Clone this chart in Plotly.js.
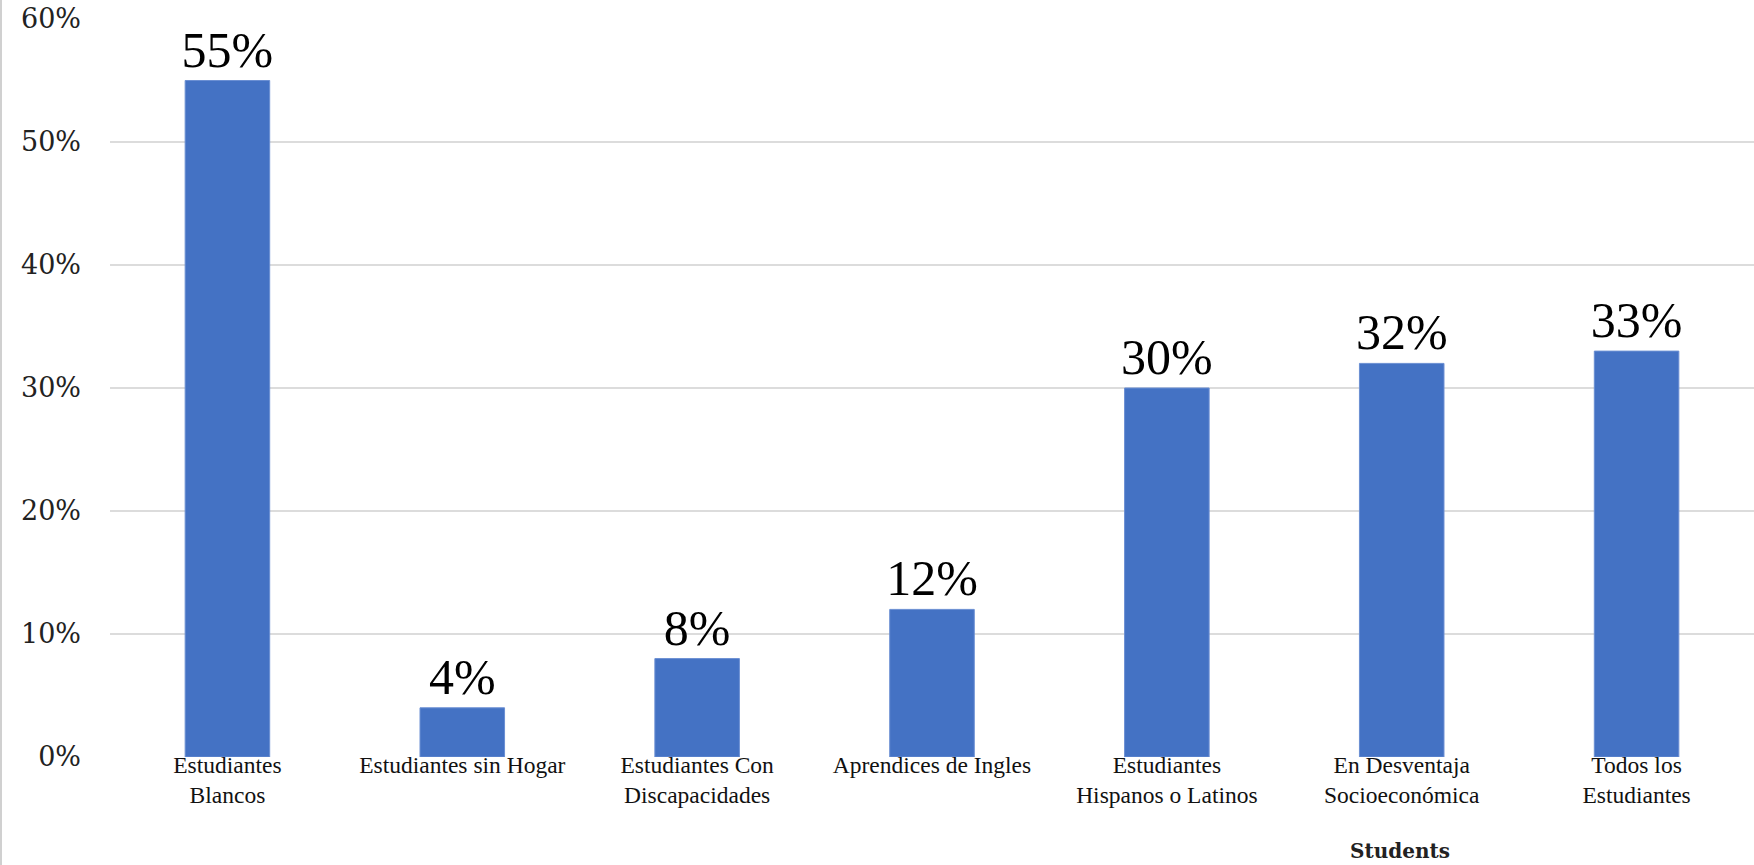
<!DOCTYPE html>
<html>
<head>
<meta charset="utf-8">
<script src="https://cdn.plot.ly/plotly-3.0.1.min.js"></script>
<style>html,body{margin:0;padding:0;background:#fff;}#chart{width:1754px;height:865px;}</style>
</head>
<body>
<div id="chart"></div>
<script>
const categories = [
  "Estudiantes<br>Blancos",
  "Estudiantes sin Hogar",
  "Estudiantes Con<br>Discapacidades",
  "Aprendices de Ingles",
  "Estudiantes<br>Hispanos o Latinos",
  "En Desventaja<br>Socioeconómica",
  "Todos los<br>Estudiantes"
];
const values = [55, 4, 8, 12, 30, 32, 33];
const yTickVals = [0, 10, 20, 30, 40, 50, 60];
const yTickText = ["0%", "10%", "20%", "30%", "40%", "50%", "60%"];
const axisTitle = "Students";

const trace = {
  type: "bar",
  x: categories,
  y: values,
  text: values.map(v => v + "%"),
  texttemplate: "%{text}",
  textposition: "outside",
  constraintext: "none",
  cliponaxis: false,
  marker: {color: "#4472C4", line: {color: "#6b8fd3", width: 1}},
  textfont: {family: "Liberation Serif, serif", size: 50, color: "#000"},
  hoverinfo: "skip"
};

const layout = {
  width: 1754,
  height: 865,
  margin: {l: 110, r: 0, t: 19, b: 108, pad: 0},
  paper_bgcolor: "#fff",
  plot_bgcolor: "#fff",
  showlegend: false,
  bargap: 0.64,
  xaxis: {
    type: "category",
    showgrid: false,
    showline: false,
    zeroline: false,
    ticks: "",
    ticklabelstandoff: -9,
    tickfont: {family: "Liberation Serif, serif", size: 23.5, color: "#111"},
    tickangle: 0,
    automargin: false
  },
  yaxis: {
    range: [0, 60],
    tickvals: yTickVals,
    ticktext: yTickText,
    showgrid: true,
    gridcolor: "#dcdcdc",
    gridwidth: 2,
    zeroline: false,
    showline: false,
    ticks: "",
    ticklabelstandoff: 28,
    tickfont: {family: "DejaVu Serif, serif", size: 27, color: "#222"},
    automargin: false
  },
  annotations: [{
    text: "<b>" + axisTitle + "</b>",
    xref: "paper", yref: "paper",
    x: 0.7847, y: -0.1463,
    xanchor: "center", yanchor: "bottom",
    showarrow: false,
    font: {family: "DejaVu Serif, serif", size: 20, color: "#222"}
  }],
  shapes: [{
    type: "line", xref: "paper", yref: "paper",
    x0: -0.0663, x1: -0.0663, y0: -0.2, y1: 1.05,
    line: {color: "#d0d0d0", width: 2}
  }]
};

Plotly.newPlot("chart", [trace], layout, {staticPlot: true, displayModeBar: false});
</script>
</body>
</html>
